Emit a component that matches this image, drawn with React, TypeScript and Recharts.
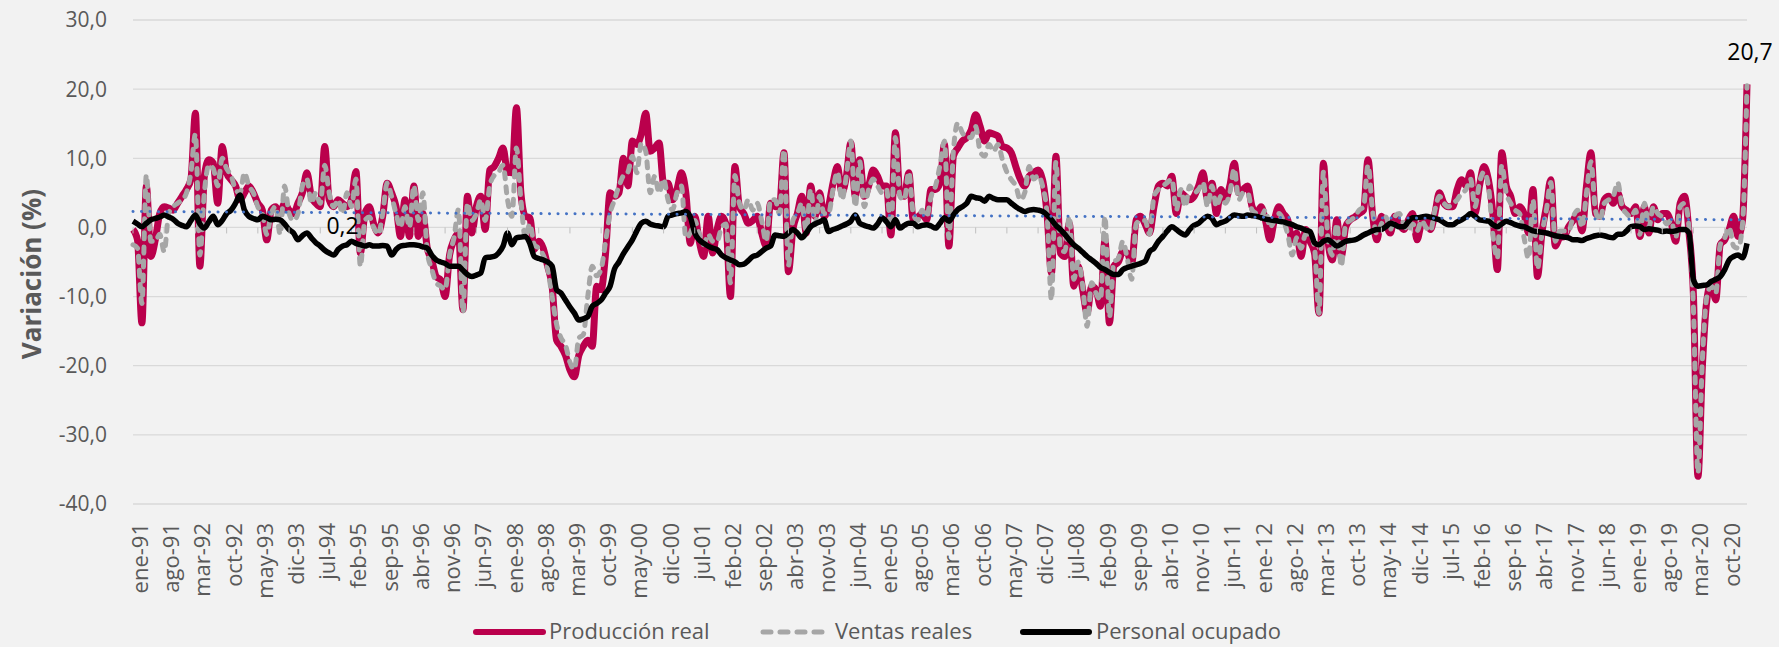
import { LineChart, Line, XAxis, YAxis, CartesianGrid, ReferenceLine, ReferenceDot, LabelList } from "recharts"

const meses = ["ene", "feb", "mar", "abr", "may", "jun", "jul", "ago", "sep", "oct", "nov", "dic"]
const anios = ["91", "92", "93", "94", "95", "96", "97", "98", "99", "00", "01", "02", "03", "04", "05",
    "06", "07", "08", "09", "10", "11", "12", "13", "14", "15", "16", "17", "18", "19", "20", "21"]

// ene-91 .. mar-21
const categorias = anios.flatMap((a) => meses.map((m) => `${m}-${a}`)).slice(0, 363)

const etiquetasEje = [
    "ene-91", "ago-91", "mar-92", "oct-92", "may-93", "dic-93", "jul-94", "feb-95", "sep-95", "abr-96",
    "nov-96", "jun-97", "ene-98", "ago-98", "mar-99", "oct-99", "may-00", "dic-00", "jul-01", "feb-02",
    "sep-02", "abr-03", "nov-03", "jun-04", "ene-05", "ago-05", "mar-06", "oct-06", "may-07", "dic-07",
    "jul-08", "feb-09", "sep-09", "abr-10", "nov-10", "jun-11", "ene-12", "ago-12", "mar-13", "oct-13",
    "may-14", "dic-14", "jul-15", "feb-16", "sep-16", "abr-17", "nov-17", "jun-18", "ene-19", "ago-19",
    "mar-20", "oct-20",
]

const ticksY = [-40, -30, -20, -10, 0, 10, 20, 30]

const produccion = [
    -0.3, -1.8, -13.8, 6, -4.2, -1.8, 2, 3, 2.8, 2.5, 3.5, 4.5,
    5.5, 7, 16.5, -5.6, 7.4, 9.8, 9.3, 3.5, 11.7, 7.9, 6.9, 6,
    4, 5, 6, 5, 3.5, 2.5, -1.8, 2.5, 3, 2, 3.5, 2.5,
    2, 3.5, 5, 7.9, 4.5, 3.5, 3, 11.7, 4, 3, 4, 3.5,
    3, 4, 8.1, -3.7, 2, 3, 0.5, -0.8, 1.6, 6.4, 5, 3,
    -1.3, 4, -1.3, 6, -1.3, 2, -3, -4.7, -7.1, -7.6, -10, -4,
    -1.8, -0.8, -11.9, 4.5, -0.8, 3, 4.5, -0.3, 8.3, 8.8, 10, 11.5,
    8, 7.9, 17.3, 5, 1.6, 1.4, -3.2, -2, -3, -5.6, -8.5, -16.3,
    -17.2, -18.5, -20.6, -21.6, -18.5, -17.2, -16.3, -17.2, -8.5, -9, -3.7, 5,
    4.5, 5, 10, 6, 12.5, 12, 13.5, 16.5, 11, 11.5, 12.2, 6.4,
    6.4, 4, 5.5, 7.9, 5, -2.3, 1.6, -2, -4.2, 1.6, -3.7, -0.3,
    1.6, 0.5, -10, 8.8, 3, 2, 0.6, 1, 1.6, -0.8, -2.7, 3.5,
    3, 3, 10.8, -6.4, -0.3, 2, 4.5, -0.8, 6, 1.6, 5, 1.6,
    3, 6.4, 8.8, 5, 7.4, 12.2, 4.5, 9.8, 4.5, 6, 8.3, 7.4,
    6, 6, -1.1, 13.7, 5, 4.5, 7.9, 1.1, 1.5, 2, 1.1, 5.5,
    5.5, 6.4, 12, -2.7, 10.3, 11.5, 12.5, 13, 14.1, 16.3, 14.6, 12.5,
    13.7, 13.5, 13.2, 11.7, 11.5, 10.8, 8.8, 7, 6, 7.4, 7.9, 8.3,
    6.9, 2, -6.6, 10.3, -3.7, -4.2, 0.6, -8.5, -5.6, -9, -12.4, -8.5,
    -9, -11.4, -1.8, -13.8, -5.6, -5, -3.5, -3.7, -5.2, 1.1, 1.6, 0.5,
    -0.8, 3, 6, 6.4, 6, 7.4, 2, 5, 4.5, 4, 4.5, 6,
    7.9, 4, 6.4, 2, 5.5, 4, 6, 9.3, 5, 5.5, 6, 3,
    2, 3, 1, -1.8, 1.1, 3, 2, 1.1, -1.8, -0.8, -4.2, -0.3,
    -2, -3.7, -12.4, 9.3, -1.8, -4.7, 1.1, -4.2, 0.1, 1.1, 1.5, 2,
    2.5, 9.8, 2, -1.8, 1.6, 0.5, -0.8, 1.6, 0.5, -0.3, 1, 2,
    -1.8, 0.6, 1.1, -0.3, 2, 5, 3.5, 3, 3, 5.5, 6.9, 6,
    7.9, 2, 6, 8.8, 6.9, 2, -6.1, 10.8, 6, 4.5, 2, 3,
    2, -0.8, 5.5, -7.1, -0.8, 3, 6.9, -2.7, -1.5, -1.3, 0.1, 1,
    2, -0.5, 6, 10.8, 2, 1.6, 4, 4.5, 3.5, 5, 3, 2.5,
    2, 3, -1.3, 3, -0.8, 3, 1.1, 2, 2, 0.6, -2, 3.5,
    4.5, -0.8, -10, -36, -20, -10.5, -8, -10.5, -2.5, -1.8, -0.3, 1.6,
    -1.3, 1.1, 20.7,
]

const ventas = [
    -2.5, -3, -11, 7.6, -2, -2, -1, -3.5, 2, 3, 3.5, 4,
    5, 8, 13.5, -4, 5, 9, 8.5, 6, 10, 8.5, 7.5, 5.5,
    5, 7.9, 6, 5, 3, 2, -1, 2, 3, -1, 6, 2,
    1, 2, 6, 7, 3.5, 5, 3.5, 9, 5, 3, 4, 2,
    5, 3, 7, -5.6, 1, 1.5, 0, -1, 2, 6.4, 4.5, 2,
    0, 3, 0, 6, 1, 5, -3.5, -6, -8, -8.5, -9, -4,
    -1.5, 2.6, -12.3, 3.5, 1, 2, 4, 1, 6, 7.5, 8, 9,
    4, 1.6, 11.5, 4, -1.5, 0.5, -2.5, -3, -4, -6, -10, -14,
    -16, -17, -19.5, -20.5, -16, -15.5, -10, -5.6, -7, -6, -2, 2,
    4, 6, 7.5, 8, 10.3, 7.9, 12.2, 11, 5, 7.4, 5, 7,
    4, 2.5, 5, 6, -1.5, -0.8, 1, -1, -2.5, -1, -2, -2,
    0, 0.5, -8, 7.5, 3.5, 2.5, 4, 2.5, 3.5, 1, -2, 4,
    4, 2, 11.2, -5.5, 1, 2, 3.5, -0.5, 5.5, 0.5, 4.5, 2,
    2, 5.5, 8, 4, 7.5, 12.5, 3, 9.5, 3, 5.5, 7, 6,
    5, 5.5, 0, 13, 4.5, 4, 8, 2, 1, 2.5, 1.5, 4.5,
    6, 9, 12.5, -1.5, 11, 15.1, 13.7, 13, 13, 14.6, 11, 10.3,
    12, 11, 12, 9.8, 8, 6.9, 6, 4, 5, 8.8, 7, 7.5,
    6, 2, -10.5, 9.5, -3, -3.5, 1.6, -7.5, -5, -8.5, -14.3, -8,
    -9.5, -10.5, 1.6, -13, -5, -4.5, -2, -4.5, -7.5, 0.5, 1, 1,
    -1, 4.5, 5.5, 6, 6.5, 7, 2.5, 5.5, 3, 6, 5, 5.5,
    6.5, 3, 6, 3, 4.5, 3.5, 5, 8.5, 4, 5, 5, 2.5,
    2, 1.5, 2.5, 0, 1, 2, 1, -1, -4, -1.5, -3, -1,
    -1, -3, -12.4, 8, -1.5, -4, 0.5, -5.6, 0.5, 1, 1.5, 2.5,
    3, 9, 2.5, -1, 0.5, 1.5, -0.3, 1.6, 2, 0.5, -0.5, 0.5,
    -0.5, 1, 0, -0.5, 2.5, 4.5, 3.5, 3, 3.5, 4, 5, 5.5,
    7, 3, 6.5, 8, 6, -1, -4.5, 9, 5, 3.5, 2.5, 2,
    -1.5, -4.5, 4, -6, -1, 2.5, 6.5, -2, -0.5, -0.5, -0.5, 1.5,
    2.5, 0, 5, 9.5, 2.5, 1, 3.5, 4, 4.5, 6.5, 3, 2,
    1.5, 2.5, -1, 3.5, 0, 3, 2, 1.5, 0.5, 1, -1.5, 3,
    3.5, 0, -12, -35.5, -19, -10, -8.5, -9.5, -2.5, -1.5, 0, -2.7,
    -3, 0.5, 20.5,
]

const personal = [
    0.9, 0.5, 0.1, 0.6, 1.1, 1.3, 1.5, 1.8, 1.5, 1.2, 0.6, 0.3,
    0.1, 1, 1.8, 0.5, -0.1, 0.8, 1.6, 0.4, 1, 2, 2.5, 3.5,
    4.7, 2.5, 1.6, 1.3, 1.1, 1.6, 1.4, 1.1, 1.2, 1.1, 0.5, -0.3,
    -0.8, -1.8, -1.2, -0.8, -1.5, -2.2, -2.7, -3.3, -3.7, -4, -3.2, -2.7,
    -2.5, -2, -2.3, -2.5, -2.7, -2.5, -2.7, -2.7, -2.6, -2.7, -4, -3.2,
    -2.7, -2.6, -2.5, -2.5, -2.6, -2.8, -3, -4, -4.7, -5, -5.2, -5.6,
    -5.6, -5.6, -6.2, -6.8, -7.1, -6.9, -6.6, -4.4, -4.3, -4.2, -3.7, -2.7,
    -0.8, -2.5, -1.5, -1.4, -1.3, -2.3, -4.2, -4.5, -4.7, -5, -5.6, -9,
    -9.5, -10.5, -11.5, -12.4, -13.4, -13.2, -12.9, -11.4, -11, -10.5, -9.5, -8.5,
    -6, -5, -3.8, -2.8, -1.8, -0.5, 0.6, 0.9, 0.5, 0.3, 0.2, 0.1,
    1.6, 1.8, 2, 2.1, 2.3, 1.5, -0.8, -1.8, -2.3, -2.7, -3, -3.2,
    -4, -4.4, -4.7, -5, -5.4, -5.3, -4.8, -4.2, -4, -3.5, -3, -2.7,
    -1.1, -1.2, -1.3, -0.8, -0.3, -0.8, -1.5, -0.8, 0.1, 0.5, 0.8, 1.1,
    -0.6, -0.3, -0.1, 0.2, 0.5, 0.9, 1.8, 0.6, 0.3, 0.1, -0.1, 0.5,
    1.4, 0.8, 0.1, 1.1, -0.1, 0.3, 0.6, 0.6, 0.1, 0.3, 0.4, 0.2,
    -0.1, 0.6, 1.4, 0.9, 1.8, 2.6, 3, 3.5, 4.5, 4.3, 4.2, 3.8,
    4.5, 4.2, 4, 4, 4, 3.5, 3, 2.6, 2.3, 2.5, 2.6, 2.5,
    2.3, 1.8, 1.1, 0.3, -0.3, -1, -1.8, -2.5, -3, -3.6, -4.2, -4.7,
    -5.2, -5.8, -6.1, -6.5, -6.8, -6.8, -6.1, -5.8, -5.6, -5.4, -5.2, -4.9,
    -3.5, -3, -2, -1.3, -0.5, 0.1, -0.3, -0.8, -1.1, -0.3, 0.3, 0.6,
    1.2, 1.6, 1.3, 0.4, 0.7, 0.9, 1.4, 1.8, 1.7, 1.6, 1.8, 1.7,
    1.6, 1.4, 1.2, 1.1, 1, 0.9, 0.8, 0.6, 0.4, 0.1, -0.1, -0.4,
    -0.6, -2.2, -2.5, -2, -1.8, -2.2, -2.7, -2.4, -2, -1.9, -1.8, -1.5,
    -1.1, -0.8, -0.5, -0.3, -0.3, 0.1, 0.6, 0.4, 0.1, 0.1, 0.8, 1.4,
    1.4, 1.5, 1.6, 1.5, 1.3, 1.1, 0.7, 0.4, 0.4, 0.8, 1.1, 1.5,
    2, 1.6, 1.1, 1, 0.9, 0.4, 0.1, 0.5, 0.9, 0.7, 0.4, 0.2,
    0.1, -0.2, -0.5, -0.6, -0.7, -0.8, -1, -1.2, -1.3, -1.4, -1.5, -1.8,
    -1.8, -1.9, -1.6, -1.4, -1.2, -1.1, -1.2, -1.4, -1.5, -1, -1, -0.5,
    0.1, 0.2, 0.1, -0.3, -0.2, -0.3, -0.4, -0.6, -0.5, -0.6, -0.5, -0.3,
    -0.3, -0.8, -7.6, -8.5, -8.4, -8.3, -7.8, -7.5, -7.1, -6.1, -4.7, -4.2,
    -4, -4.4, -2.3,
]

// tendencia lineal (inicio, fin)
const tendencia = [2.3, 1.1]
const etiquetaSuelta = { mes: "dic-94", valor: 0.2 }

const data = categorias.map((mes, i) => ({
    mes,
    produccion: produccion[i],
    ventas: ventas[i],
    personal: personal[i],
}))

const fmt = (v: number) => v.toFixed(1).replace(".", ",")

const FONT = "'Open Sans', 'Noto Sans', sans-serif"

const TickX = (props: any) => {
    const { x, y, payload } = props
    return (
        <text x={x} y={y} transform={`rotate(-90, ${x}, ${y})`} textAnchor="end" dy={15}
            fill="#595959" fontSize={22} fontFamily={FONT}>
            {payload.value}
        </text>
    )
}

const UltimoLabel = (props: any) => {
    const { x, y, value, index } = props
    if (index !== produccion.length - 1) return null
    return (
        <text x={x + 3} y={y - 30} textAnchor="middle" dominantBaseline="middle" fill="#000" fontSize={23} fontFamily={FONT}>
            {fmt(value)}
        </text>
    )
}

const Leyenda = () => (
    <div style={{ position: "absolute", left: 0, top: 612, width: 1779, height: 40, fontFamily: FONT, fontSize: 22, color: "#595959" }}>
        <svg width={1779} height={40} style={{ position: "absolute", left: 0, top: 0 }}>
            <line x1={476} x2={543} y1={20} y2={20} stroke="#BA004C" strokeWidth={6} strokeLinecap="round" />
            <line x1={763} x2={830} y1={20} y2={20} stroke="#A6A6A6" strokeWidth={5} strokeDasharray="8 9" strokeLinecap="round" />
            <line x1={1023} x2={1089} y1={20} y2={20} stroke="#000" strokeWidth={6} strokeLinecap="round" />
        </svg>
        <span style={{ position: "absolute", left: 549, top: 3, whiteSpace: "nowrap" }}>Producción real</span>
        <span style={{ position: "absolute", left: 835, top: 3, whiteSpace: "nowrap" }}>Ventas reales</span>
        <span style={{ position: "absolute", left: 1096, top: 3, whiteSpace: "nowrap" }}>Personal ocupado</span>
    </div>
)

export default function App() {
    return (
        <div style={{ position: "absolute", left: 0, top: 0, width: 1779, height: 647, background: "#F2F2F2", fontFamily: FONT }}>
            <LineChart width={1779} height={647} data={data} margin={{ top: 20, right: 32, left: 0, bottom: 43 }}>
                <CartesianGrid vertical={false} stroke="#D9D9D9" strokeWidth={1.3} />
                <XAxis
                    dataKey="mes"
                    ticks={etiquetasEje}
                    interval={0}
                    tick={<TickX />}
                    tickLine={false}
                    axisLine={false}
                    tickMargin={13}
                    height={100}
                />
                <YAxis
                    domain={[-40, 30]}
                    ticks={ticksY}
                    tickFormatter={fmt}
                    tick={{ fill: "#595959", fontSize: 21, fontFamily: FONT }}
                    tickLine={false}
                    axisLine={false}
                    tickMargin={20}
                    width={133}
                    label={{
                        value: "Variación (%)",
                        angle: -90,
                        position: "insideLeft",
                        offset: 0,
                        dx: 32,
                        dy: 12,
                        style: { textAnchor: "middle", fill: "#595959", fontSize: 26, fontWeight: 700, fontFamily: FONT },
                    }}
                />
                {etiquetasEje.map((m) => (
                    <ReferenceDot key={m} x={m} y={0} r={0}
                        shape={(p: any) => <line x1={p.cx} x2={p.cx} y1={p.cy} y2={p.cy + 6} stroke="#BFBFBF" strokeWidth={1} />} />
                ))}
                <Line type="monotone" dataKey="produccion" name="Producción real" stroke="#BA004C" strokeWidth={7}
                    dot={false} isAnimationActive={false}>
                    <LabelList dataKey="produccion" content={<UltimoLabel />} />
                </Line>
                <Line type="monotone" dataKey="ventas" name="Ventas reales" stroke="#A6A6A6" strokeWidth={5}
                    strokeDasharray="6 8" strokeLinecap="round" dot={false} isAnimationActive={false} />
                <Line type="monotone" dataKey="personal" name="Personal ocupado" stroke="#000000" strokeWidth={5.5}
                    dot={false} isAnimationActive={false} />
                <ReferenceLine
                    segment={[
                        { x: categorias[0], y: tendencia[0] },
                        { x: categorias[categorias.length - 1], y: tendencia[1] },
                    ]}
                    stroke="#4472C4"
                    strokeWidth={3}
                    strokeDasharray="0.1 8.4"
                    strokeLinecap="round"
                />
                <ReferenceDot x={etiquetaSuelta.mes} y={0} r={0}
                    shape={(p: any) => (
                        <text x={p.cx} y={p.cy} textAnchor="middle" dominantBaseline="middle" fill="#000" fontSize={23} fontFamily={FONT}>
                            {fmt(etiquetaSuelta.valor)}
                        </text>
                    )} />
            </LineChart>
            <Leyenda />
        </div>
    )
}
